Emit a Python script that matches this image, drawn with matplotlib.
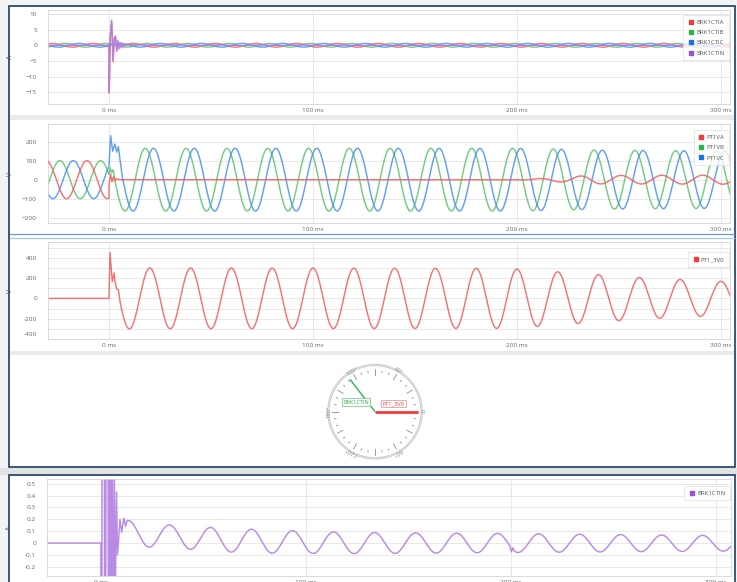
import numpy as np
import matplotlib.pyplot as plt
from matplotlib.lines import Line2D
from matplotlib.patches import Rectangle, Circle

plt.rcParams['font.family'] = ['Open Sans', 'DejaVu Sans']

W, H, DPI = 737, 582, 100
F_HZ = 50.0

# ---------------- recorded channels (time in ms) ----------------
# phase currents BRK1CTIA/B/C: steady amplitude and time of a peak
i_amp = 0.6
i_peak = [-28.0, -21.3, -14.7]
# fault burst on phase A current
ia_burst_t = [0.0, 0.1, 0.6, 1.3, 2.0, 2.6, 3.2, 3.8, 4.3]
ia_burst_v = [0.3, -15.3, 2.5, 7.5, -5.3, 2.0, 2.5, -1.5, 0.5]

# neutral current BRK1CTIN
in_burst_t = [0.0, 0.1, 0.6, 1.3, 2.0, 2.6, 3.2, 3.8, 4.3, 4.9, 5.4, 6.0, 6.5, 7.0,
              7.6, 8.1, 9.3, 10.1, 11.2, 12.0, 12.8]
in_burst_v = [0.0, -15.0, 3.0, 8.0, -5.0, 2.5, 3.0, -2.0, 1.5, -1.2, 1.0, -0.8, 0.7, -0.5,
              0.43, -0.1, 0.2, 0.09, 0.21, 0.14, 0.19]
in_peak = 33.5
in_env_t = [13.0, 35.0, 55.0, 75.0, 120.0, 200.0, 308.0]
in_env_amp = [0.11, 0.095, 0.1, 0.1, 0.09, 0.08, 0.065]
in_env_off = [0.08, 0.055, 0.03, 0.015, 0.0, 0.0, -0.003]
in_glitch_t = [199.5, 200.2, 200.9, 201.6]
in_glitch_v = [0.0, -0.035, 0.015, 0.0]

# phase voltages PT1VA/B/C
v_pre_amp = 100.0
v_pre_peak = [-10.8, -4.1, -17.5]
va_burst_t = [0.0, 0.05, 0.8, 1.5, 2.2, 3.0, 3.8, 5.0]
va_burst_v = [-96.0, -20.0, 30.0, -12.0, 15.0, -6.0, 5.0, 0.0]
va_post_peak = 231.0
va_env_t = [5.0, 200.0, 215.0, 235.0, 308.0]
va_env_amp = [0.0, 0.0, 8.0, 22.0, 24.0]
vb_burst_t = [0.0, 0.6, 1.3, 2.0, 2.6]
vb_burst_v = [28.0, 62.0, 38.0, 52.0, 20.0]
vb_post_peak = 17.8
vc_burst_t = [0.0, 0.8, 1.8, 2.9, 3.8, 4.6, 5.4]
vc_burst_v = [71.0, 232.0, 150.0, 188.0, 145.0, 175.0, 105.0]
vc_post_peak = 21.8
vbc_env_t = [0.0, 200.0, 240.0, 308.0]
vbc_env_amp = [165.0, 165.0, 155.0, 150.0]

# residual voltage PT1_3V0
v0_burst_t = [0.0, 0.5, 1.6, 2.5, 2.9, 3.8, 4.6, 5.4]
v0_burst_v = [0.0, 450.0, 166.0, 250.0, 170.0, 90.0, 85.0, -30.0]
v0_post_peak = 20.0
v0_env_t = [6.0, 195.0, 225.0, 260.0, 308.0]
v0_env_amp = [300.0, 295.0, 255.0, 205.0, 160.0]

# phasor diagram: angle (deg) and drawn length
phasor_names = ['BRK1CTIN', 'PT1_3V0']
phasor_angle = [127.7, 0.0]
phasor_len = [41.0, 43.3]

RED, GREEN, BLUE, PURPLE = '#f03c3c', '#2fb24c', '#1c73e8', '#9b4fd6'
LRED, LGREEN, LBLUE, LPURPLE = '#f25c5c', '#5cc26f', '#4690ee', '#b27ee2'


def cycle(t, peak_ms, amp):
    return amp * np.cos(2 * np.pi * F_HZ * (t - peak_ms) / 1000.0)


def trace(pre_amp, pre_peak, burst_t, burst_v, post_start, post_peak,
          env_t, env_amp, off_t=None, off_v=None):
    tp = np.arange(-32.0, 0.0, 0.1)
    tq = np.arange(post_start, 310.0, 0.1)
    yp = cycle(tp, pre_peak, pre_amp)
    yq = cycle(tq, post_peak, np.interp(tq, env_t, env_amp))
    if off_t is not None:
        yq = yq + np.interp(tq, off_t, off_v)
    return (np.concatenate([tp, burst_t, tq]),
            np.concatenate([yp, burst_v, yq]))


def px_ax(left, top, right, bottom):
    return [left / W, 1 - bottom / H, (right - left) / W, (bottom - top) / H]


fig = plt.figure(figsize=(W / DPI, H / DPI), dpi=DPI, facecolor='#f1f3f5')


def frame_rect(x0, y0, x1, y1, **kw):
    fig.add_artist(Rectangle((x0 / W, 1 - y1 / H), (x1 - x0) / W, (y1 - y0) / H,
                             transform=fig.transFigure, zorder=-5, **kw))


def hline(y, color, lw):
    fig.add_artist(Line2D([10 / W, 734 / W], [1 - y / H, 1 - y / H], color=color,
                          lw=lw, transform=fig.transFigure, zorder=-4))


# panels
frame_rect(9, 6, 735, 467, facecolor='white', edgecolor='#1f3a5f', lw=1.2)
frame_rect(0, 467.8, 737, 474.5, facecolor='#e1e2e4', edgecolor='none')
frame_rect(9, 475, 735, 600, facecolor='white', edgecolor='#1f3a5f', lw=1.2)
frame_rect(10, 115, 734, 120, facecolor='#ebebeb', edgecolor='none')
frame_rect(10, 350.5, 734, 355, facecolor='#ebebeb', edgecolor='none')
hline(234.2, '#6f9bd6', 0.9)
hline(237.6, '#a9c3e8', 0.9)


def style(ax, xlim, ylim, ylabel, label_x):
    ax.set_xlim(xlim)
    ax.set_ylim(ylim)
    ax.set_xticks([0, 100, 200, 300])
    ax.set_xticklabels(['0 ms', '100 ms', '200 ms', '300 ms'])
    ax.grid(True, which='both', color='#e4e4e4', lw=0.6)
    ax.set_axisbelow(True)
    ax.tick_params(which='both', length=0, labelsize=4.6, labelcolor='#666666')
    ax.tick_params(axis='y', pad=8)
    ax.tick_params(axis='x', pad=3)
    for s in ax.spines.values():
        s.set_color('#d4d4d4')
        s.set_linewidth(0.6)
    ax.set_ylabel(ylabel, fontsize=4.8, color='#555555')
    ax.yaxis.set_label_coords(label_x, 0.5)


def legend(ax, names, colors, anchor):
    handles = [Line2D([], [], ls='', marker='s', ms=3.0, color=c) for c in colors]
    leg = ax.legend(handles, names, loc='upper right', bbox_to_anchor=anchor,
                    fontsize=4.3, frameon=True, fancybox=False, borderpad=0.8,
                    handletextpad=0.4, labelspacing=0.85, handlelength=0.9,
                    borderaxespad=0)
    leg.get_frame().set_edgecolor('#dddddd')
    leg.get_frame().set_linewidth(0.6)
    for txt in leg.get_texts():
        txt.set_color('#555555')


XL = (-29.9, 304.4)
LW = 1.05

# ---- currents ----
ax1 = fig.add_axes(px_ax(48, 10, 730, 104))
t, y = trace(i_amp, i_peak[0], ia_burst_t, ia_burst_v, 4.8, i_peak[0], [0, 310], [i_amp, i_amp])
ax1.plot(t, y, color=LRED, lw=LW, alpha=0.8)
for pk, c in zip(i_peak[1:], [LGREEN, LBLUE]):
    t, y = trace(i_amp, pk, [], [], 0.0, pk, [0, 310], [i_amp, i_amp])
    ax1.plot(t, y, color=c, lw=LW, alpha=0.8)
t_in, y_in = trace(0.0, 0.0, in_burst_t, in_burst_v, 13.5, in_peak,
                   in_env_t, in_env_amp, in_env_t, in_env_off)
y_in = y_in + np.interp(t_in, in_glitch_t, in_glitch_v, left=0, right=0)
ax1.plot(t_in, y_in, color=LPURPLE, lw=LW, alpha=0.9)
style(ax1, XL, (-18.8, 11.3), 'A', -0.05)
ax1.set_yticks([-15, -10, -5, 0, 5, 10])
legend(ax1, ['BRK1CTIA', 'BRK1CTIB', 'BRK1CTIC', 'BRK1CTIN'],
       [RED, GREEN, BLUE, PURPLE], (0.9985, 0.947))

# ---- phase voltages ----
ax2 = fig.add_axes(px_ax(48, 124, 730, 223))
t, y = trace(v_pre_amp, v_pre_peak[0], va_burst_t, va_burst_v, 5.5, va_post_peak,
             va_env_t, va_env_amp)
ax2.plot(t, y, color=LRED, lw=LW, alpha=0.85, zorder=3)
t, y = trace(v_pre_amp, v_pre_peak[1], vb_burst_t, vb_burst_v, 3.1, vb_post_peak,
             vbc_env_t, vbc_env_amp)
ax2.plot(t, y, color=LGREEN, lw=LW, alpha=0.85, zorder=2)
t, y = trace(v_pre_amp, v_pre_peak[2], vc_burst_t, vc_burst_v, 6.5, vc_post_peak,
             vbc_env_t, vbc_env_amp)
ax2.plot(t, y, color=LBLUE, lw=LW, alpha=0.85, zorder=2)
style(ax2, XL, (-228, 293), 'V', -0.05)
ax2.set_yticks([-200, -100, 0, 100, 200])
legend(ax2, ['PT1VA', 'PT1VB', 'PT1VC'], [RED, GREEN, BLUE], (0.9985, 0.939))

# ---- residual voltage ----
ax3 = fig.add_axes(px_ax(48, 242, 730, 339))
t, y = trace(0.0, 0.0, v0_burst_t, v0_burst_v, 6.0, v0_post_peak, v0_env_t, v0_env_amp)
ax3.plot(t, y, color=LRED, lw=LW, alpha=0.85)
style(ax3, XL, (-400, 555), 'V', -0.05)
ax3.set_yticks([-400, -200, 0, 200, 400])
ax3.set_yticklabels(['', '-200', '0', '200', '400'])
ax3.set_yticks([-300, -100, 100, 300, 500], minor=True)
ax3.annotate('-400', xy=(0, -400), xycoords=('axes fraction', 'data'),
             xytext=(-8, 3.6), textcoords='offset points', ha='right', va='center',
             fontsize=4.6, color='#666666')
legend(ax3, ['PT1_3V0'], [RED], (0.9985, 0.897))

# ---- phasor diagram ----
axp = fig.add_axes(px_ax(320, 356.7, 430, 466.7))
axp.set_xlim(-55, 55)
axp.set_ylim(-55, 55)
axp.set_aspect('equal')
axp.axis('off')
for r in (46.0, 47.3):
    axp.add_patch(Circle((0, 0), r, fill=False, ec='#c9c9c9', lw=0.7))
for deg in range(0, 360, 10):
    a = np.deg2rad(deg)
    r0, r1 = (37.0, 43.0) if deg % 30 == 0 else (39.5, 41.0)
    axp.plot([r0 * np.cos(a), r1 * np.cos(a)], [r0 * np.sin(a), r1 * np.sin(a)],
             color='#8c8c8c', lw=0.6)
for deg, lab in [(0, '0°'), (60, '60°'), (120, '120°'), (180, '180°'),
                 (240, '-120°'), (300, '-60°')]:
    a = np.deg2rad(deg)
    axp.text(46.5 * np.cos(a), 46.5 * np.sin(a), lab, rotation=deg - 90,
             rotation_mode='anchor', ha='center', va='center', fontsize=4.2,
             color='#8a8a8a')
for name, ang, ln, c, lw in zip(phasor_names, phasor_angle, phasor_len,
                                [GREEN, RED], [1.0, 2.0]):
    a = np.deg2rad(ang)
    axp.plot([0, ln * np.cos(a)], [0, ln * np.sin(a)], color=c, lw=lw,
             solid_capstyle='butt')
axp.text(-19, 9.7, phasor_names[0], ha='center', va='center', fontsize=4.1,
         color=GREEN, bbox=dict(boxstyle='square,pad=0.25', fc='white', ec='#7fd08f', lw=0.6))
axp.text(18.5, 8.2, phasor_names[1], ha='center', va='center', fontsize=4.1,
         color=RED, bbox=dict(boxstyle='square,pad=0.25', fc='white', ec='#f49a9a', lw=0.6))

# ---- neutral current detail ----
ax5 = fig.add_axes(px_ax(47, 479, 731, 576))
ax5.plot(t_in, y_in, color=LPURPLE, lw=LW, alpha=0.9)
style(ax5, (-26.3, 307.3), (-0.278, 0.54), 'A', -0.049)
ax5.set_yticks([-0.2, -0.1, 0, 0.1, 0.2, 0.3, 0.4, 0.5])
ax5.set_yticklabels(['-0.2', '-0.1', '0', '0.1', '0.2', '0.3', '0.4', '0.5'])
legend(ax5, ['BRK1CTIN'], [PURPLE], (0.9985, 0.931))

fig.savefig('out.png', dpi=DPI, facecolor=fig.get_facecolor())
